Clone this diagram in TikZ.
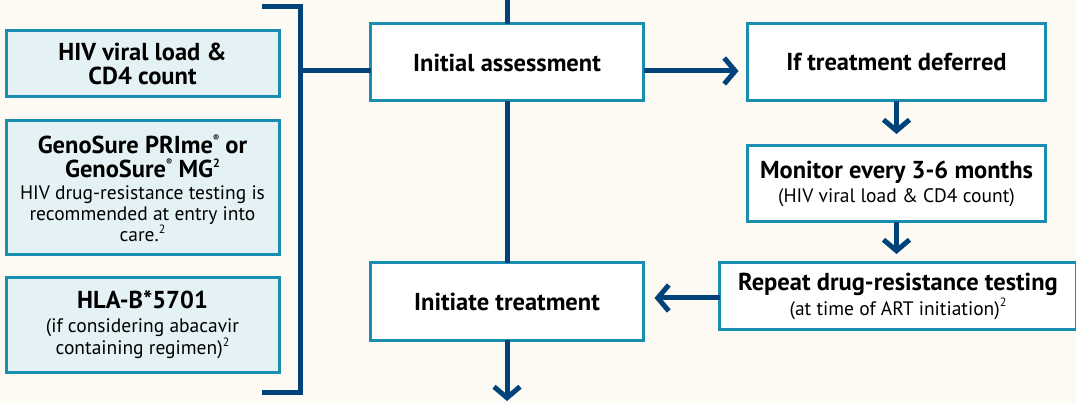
\documentclass[tikz,border=0pt]{standalone}
\usepackage{fontspec}
\setmainfont{PT Sans}
\usetikzlibrary{arrows.meta,positioning}
\definecolor{navy}{RGB}{0,66,122}
\definecolor{teal}{RGB}{26,142,176}
\definecolor{paleblue}{RGB}{228,242,245}
\definecolor{cream}{RGB}{253,250,243}
\newcommand{\boxhead}[1]{{\fontsize{24.5}{23}\selectfont\bfseries #1}}
\newcommand{\sups}[1]{\raisebox{.42em}{\fontsize{12}{12}\selectfont #1}}
\newcommand{\regmark}{\raisebox{.5em}{\fontsize{9}{9}\selectfont\textregistered}}

\begin{document}
\begin{tikzpicture}[x=1pt,y=-1pt,font=\fontsize{19.5}{21}\selectfont,
  box/.style={draw=teal,line width=3pt,fill=white,align=center,outer sep=0pt,inner sep=2pt},
  testbox/.style={box,fill=paleblue,minimum width=273pt},
  flow/.style={box,minimum width=273pt,minimum height=77pt},
  link/.style={draw=navy,line width=5pt},
  arr/.style={link,-{Straight Barb[length=11pt,width=26pt]}}]
\fill[cream] (0,0) rectangle (1076,403);
\useasboundingbox (0,0) rectangle (1076,403);
% tests at entry
\node[testbox,minimum height=66pt] (hiv) at (142.5,64) {\boxhead{HIV viral load \&}\\[3pt]\boxhead{CD4 count}};
\node[testbox,minimum height=134pt,below=24pt of hiv] (geno) {\boxhead{GenoSure PRIme\regmark{} or}\\[3pt]
  \boxhead{GenoSure\regmark{} MG\sups{2}}\\[1pt]HIV drug-resistance testing is\\recommended at entry into\\care.\sups{2}};
\node[testbox,minimum height=94pt,below=23pt of geno] (hla) {\boxhead{HLA-B*5701}\\[3pt](if considering abacavir\\containing regimen)\sups{2}};
% main flow
\node[flow] (init) at (507,62.5) {\boxhead{Initial assessment}};
\node[flow,below=162pt of init] (start) {\boxhead{Initiate treatment}};
\node[box,minimum width=298pt,minimum height=77pt,right=104pt of init] (defer) {\boxhead{If treatment deferred}};
\node[box,minimum width=298pt,minimum height=76pt,below=45pt of defer] (monitor) {\boxhead{Monitor every 3-6 months}\\[3pt](HIV viral load \& CD4 count)};
\node[box,minimum width=357pt,minimum height=66pt,below=41pt of monitor,xshift=1.5pt] (repeat) {\boxhead{Repeat drug-resistance testing}\\[2pt](at time of ART initiation)\sups{2}};
\coordinate (in) at (507,0);
\coordinate (out) at (507,401);
\coordinate (btop) at (262,7);
\coordinate (bbot) at (262,392);
\coordinate (bmid) at (300,71);
% bracket
\draw[link] (btop) -| (bmid) |- (bbot);
\draw[link] (bmid) -- (bmid -| init.west);
\draw[link] (in) -- (init.north);
\draw[link] (init.south) -- (start.north);
\draw[arr] (start.south) -- (out);
\draw[arr,shorten >=9pt] ([yshift=-8.5pt]init.east) -- ([yshift=-8.5pt]defer.west);
\draw[arr,shorten >=12pt] (defer.south) -- (monitor.north);
\draw[arr,shorten >=9pt] (monitor.south) -- (monitor.south |- repeat.north);
\draw[arr,shorten >=11pt] ([yshift=-2pt]repeat.west) -- ([yshift=-2pt]repeat.west -| start.east);
\end{tikzpicture}
\end{document}
